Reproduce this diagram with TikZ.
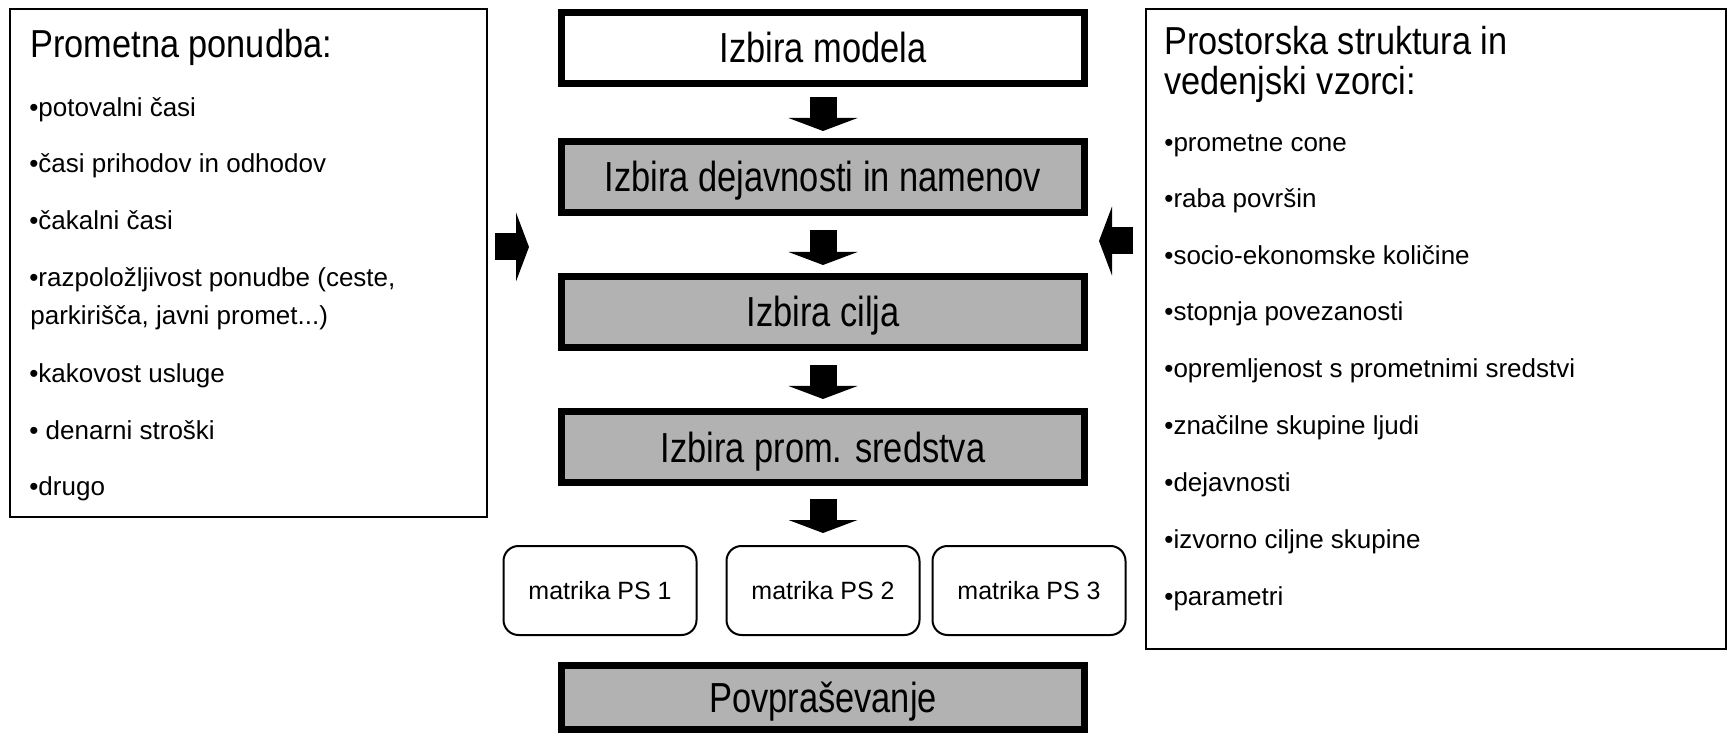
\documentclass[tikz,border=0pt]{standalone}
\usepackage{fontspec}
\setmainfont{Liberation Sans}
\newfontfamily\uzka[FakeStretch=0.82]{Liberation Sans}
\newfontfamily\naslovfont[FakeStretch=0.88]{Liberation Sans}
\usepackage{tikz}
\usetikzlibrary{arrows.meta,positioning}
\tikzset{
    %Define standard block arrow
    blok/.style={
           line width=13.5pt,
           -{Triangle[length=6.5pt,width=34.5pt,line width=0pt]}},
    %Define style for boxes in the middle
    korak/.style={
           rectangle,
           draw=black, line width=3.5pt,
           minimum width=261.5pt,
           minimum height=35.5pt,
           inner sep=0pt,
           font=\uzka\fontsize{21}{21}\selectfont,
           text height=15pt, text depth=0pt},
    siv/.style={fill=black!30},
    % Define style for matrices
    matrika/.style={
           rectangle, rounded corners=7.5pt,
           draw=black, line width=1pt,
           minimum width=96.5pt,
           minimum height=44.5pt,
           inner sep=0pt,
           font=\fontsize{12.5}{12.5}\selectfont},
    okvir/.style={draw=black, line width=1pt, inner sep=0pt},
    naslov/.style={anchor=base west, inner sep=0pt,
           font=\naslovfont\fontsize{19.5}{20}\selectfont},
    tocka/.style={anchor=base west, inner sep=0pt,
           font=\fontsize{13}{13}\selectfont}
}
\begin{document}
\begin{tikzpicture}[x=0.5pt,y=-0.5pt]
\useasboundingbox (0,0) rectangle (1729,737);
%Side boxes
\node[okvir, minimum width=238.5pt, minimum height=254pt] (ponudba) at (248.5,263) {};
\node[okvir, minimum width=290pt, minimum height=320pt] (struktura) at (1436,329) {};
%Middle column
\node[korak] (model) at (823,48) {Izbira modela};
\node[korak, siv] (dejavnost) [below=25.5pt of model] {Izbira dejavnosti in namenov};
\node[korak, siv] (cilj) [below=28.5pt of dejavnost] {Izbira cilja};
\node[korak, siv] (sredstvo) [below=28.5pt of cilj] {Izbira prom. sredstva};
\node[matrika] (ps2) [below=29.5pt of sredstvo] {matrika PS 2};
\node[matrika] (ps1) [left=14pt of ps2] {matrika PS 1};
\node[matrika] (ps3) [right=5.5pt of ps2] {matrika PS 3};
\node[korak, siv, minimum height=32pt] (povpr) [below=13pt of ps2] {Povpraševanje};
%Arrows
\draw[blok, shorten <=5pt, shorten >=3.5pt] (model) -- (dejavnost);
\draw[blok, shorten <=7pt, shorten >=4pt] (dejavnost) -- (cilj);
\draw[blok, shorten <=7pt, shorten >=4.5pt] (cilj) -- (sredstvo);
\draw[blok, shorten <=6.5pt, shorten >=6pt] (sredstvo) -- (ps2);
\coordinate (vhod1) at (529,247);
\coordinate (vhod2) at (1099,241);
\draw[blok, shorten <=3.5pt] (ponudba.east |- vhod1) -- (vhod1);
\draw[blok, shorten <=6pt] (struktura.west |- vhod2) -- (vhod2);
%Left text
\node[naslov] (nasl1) at (30,58) {Prometna ponudba:};
\node[tocka] (p1) at (29,117) {•potovalni časi};
\node[tocka] (p2) at (29,173) {•časi prihodov in odhodov};
\node[tocka] (p3) at (29,230) {•čakalni časi};
\node[tocka] (p4) at (29,287) {•razpoložljivost ponudbe (ceste,};
\node[tocka] (p4b) at (30,325) {parkirišča, javni promet...)};
\node[tocka] (p5) at (29,383) {•kakovost usluge};
\node[tocka] (p6) at (29,439) {• denarni stroški};
\node[tocka] (p7) at (29,495) {•drugo};
%Right text
\node[naslov] (nasl2) at (1164,55) {Prostorska struktura in};
\node[naslov] (nasl2b) at (1164,95) {vedenjski vzorci:};
\node[tocka] (s1) at (1164,152) {•prometne cone};
\node[tocka] (s2) at (1164,208) {•raba površin};
\node[tocka] (s3) at (1164,265) {•socio-ekonomske količine};
\node[tocka] (s4) at (1164,321) {•stopnja povezanosti};
\node[tocka] (s5) at (1164,378) {•opremljenost s prometnimi sredstvi};
\node[tocka] (s6) at (1164,435) {•značilne skupine ljudi};
\node[tocka] (s7) at (1164,491) {•dejavnosti};
\node[tocka] (s8) at (1164,548) {•izvorno ciljne skupine};
\node[tocka] (s9) at (1164,605) {•parametri};
\end{tikzpicture}
\end{document}
